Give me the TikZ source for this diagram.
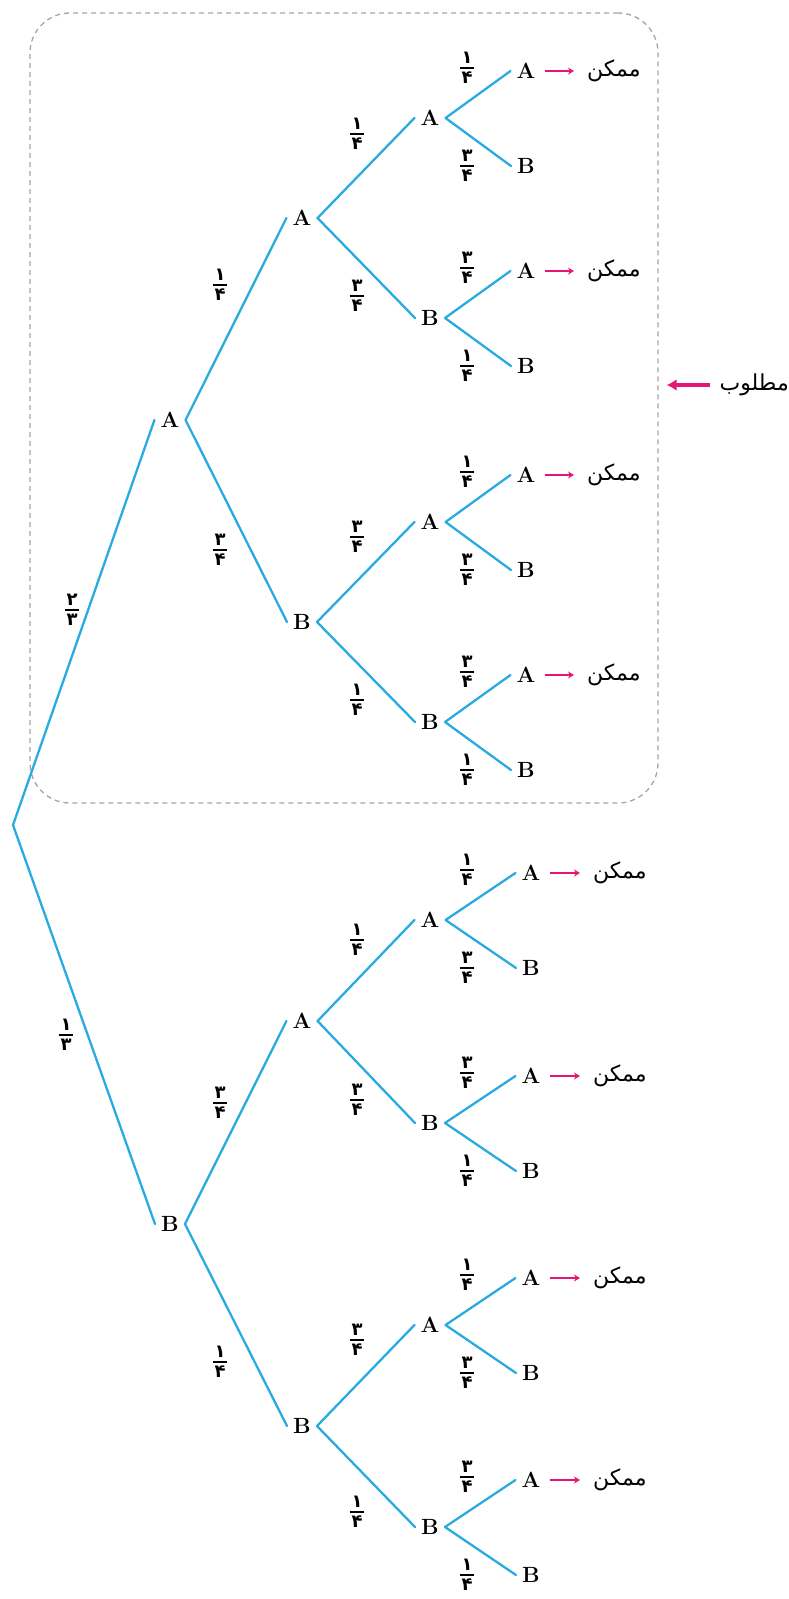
\documentclass[tikz,border=0pt]{standalone}
\usepackage{fontspec}
\newfontfamily\pfont[Script=Arabic]{DejaVu Sans}
\TeXXeTstate=1
\usetikzlibrary{arrows.meta}
\definecolor{edgeblue}{RGB}{41,171,226}
\definecolor{pinkarr}{RGB}{228,22,122}
\definecolor{boxgray}{RGB}{165,165,165}
\newcommand\pfr[2]{\vbox{\offinterlineskip\halign{\hfil##\hfil\cr\pfont\bfseries #1\cr\noalign{\kern3.5pt}\rule{14pt}{1.5pt}\cr\noalign{\kern3.5pt}\pfont\bfseries #2\cr}}}
\tikzset{
  lt/.style={font=\fontsize{22}{22}\selectfont\bfseries, inner xsep=6pt, inner ysep=1pt},
  edge/.style={draw=edgeblue, line width=2.3pt, line cap=round},
  fr/.style={font=\fontsize{18}{18}\selectfont, inner sep=0pt},
  mtext/.style={font={\fontsize{22}{22}\selectfont\pfont}, inner sep=0pt, anchor=west},
  smallarr/.style={draw=pinkarr, line width=1.7pt, -{Stealth[length=6pt,width=7pt]}, shorten <=3pt, shorten >=13pt},
  bigarr/.style={draw=pinkarr, line width=3.6pt, -{Latex[length=10pt,width=12pt]}, shorten <=9pt, shorten >=8pt},
  dashbox/.style={draw=boxgray, dash pattern=on 5pt off 4pt, line width=1.3pt, rounded corners=40pt, inner sep=0pt}
}
\begin{document}
\begin{tikzpicture}[x=1pt,y=-1pt]
\useasboundingbox (0,0) rectangle (789,1599);
\node[dashbox, minimum width=628pt, minimum height=790pt] (box) at (344,408) {};
% root and level 1
\coordinate (r) at (13,825);
\node[lt] (A1) at (170,420) {A};
\node[lt] (B1) at (170,1224) {B};
% level 2
\node[lt] (AA) at (302,218) {A};
\node[lt] (AB) at (302,622) {B};
\node[lt] (BA) at (302,1021) {A};
\node[lt] (BB) at (302,1426) {B};
\draw[edge] (r) -- (A1.west);
\draw[edge] (r) -- (B1.west);
\draw[edge] (A1.east) -- (AA.west);
\draw[edge] (A1.east) -- (AB.west);
\draw[edge] (B1.east) -- (BA.west);
\draw[edge] (B1.east) -- (BB.west);
% level 3 and leaves
\foreach \j/\y/\lab/\xl/\xm/\fu/\fd in {
  0/118/A/526/587/۱/۳, 1/318/B/526/587/۳/۱,
  2/522/A/526/587/۱/۳, 3/722/B/526/587/۳/۱,
  4/920/A/531/593/۱/۳, 5/1123/B/531/593/۳/۱,
  6/1325/A/531/593/۱/۳, 7/1527/B/531/593/۳/۱}{
  \node[lt] (t\j) at (430,\y) {\lab};
  \node[lt] (la\j) at (\xl,\y-47) {A};
  \node[lt] (lb\j) at (\xl,\y+48) {B};
  \draw[edge] (t\j.east) -- (la\j.west);
  \draw[edge] (t\j.east) -- (lb\j.west);
  \node[fr] (fu\j) at (467,\y-50) {\pfr{\fu}{۴}};
  \node[fr] (fd\j) at (467,\y+48) {\pfr{\fd}{۴}};
  \node[mtext] (m\j) at (\xm,\y-47) {\beginR ممکن\endR};
  \draw[smallarr] (la\j.east) -- (m\j.west);
}
\draw[edge] (AA.east) -- (t0.west);
\draw[edge] (AA.east) -- (t1.west);
\draw[edge] (AB.east) -- (t2.west);
\draw[edge] (AB.east) -- (t3.west);
\draw[edge] (BA.east) -- (t4.west);
\draw[edge] (BA.east) -- (t5.west);
\draw[edge] (BB.east) -- (t6.west);
\draw[edge] (BB.east) -- (t7.west);
% probability labels, levels 0-2
\node[fr] (p0u) at (72,610) {\pfr{۲}{۳}};
\node[fr] (p0d) at (66,1035) {\pfr{۱}{۳}};
\node[fr] (p1a) at (220,285) {\pfr{۱}{۴}};
\node[fr] (p1b) at (220,550) {\pfr{۳}{۴}};
\node[fr] (p1c) at (220,1103) {\pfr{۳}{۴}};
\node[fr] (p1d) at (220,1362) {\pfr{۱}{۴}};
\node[fr] (p2a) at (357,134) {\pfr{۱}{۴}};
\node[fr] (p2b) at (357,296) {\pfr{۳}{۴}};
\node[fr] (p2c) at (357,537) {\pfr{۳}{۴}};
\node[fr] (p2d) at (357,700) {\pfr{۱}{۴}};
\node[fr] (p2e) at (357,940) {\pfr{۱}{۴}};
\node[fr] (p2f) at (357,1100) {\pfr{۳}{۴}};
\node[fr] (p2g) at (357,1340) {\pfr{۳}{۴}};
\node[fr] (p2h) at (357,1512) {\pfr{۱}{۴}};
% wanted
\node[mtext, anchor=east] (want) at (789,385) {\beginR مطلوب\endR};
\draw[bigarr] (want.west) -- (box.east |- want.west);
\end{tikzpicture}
\end{document}
